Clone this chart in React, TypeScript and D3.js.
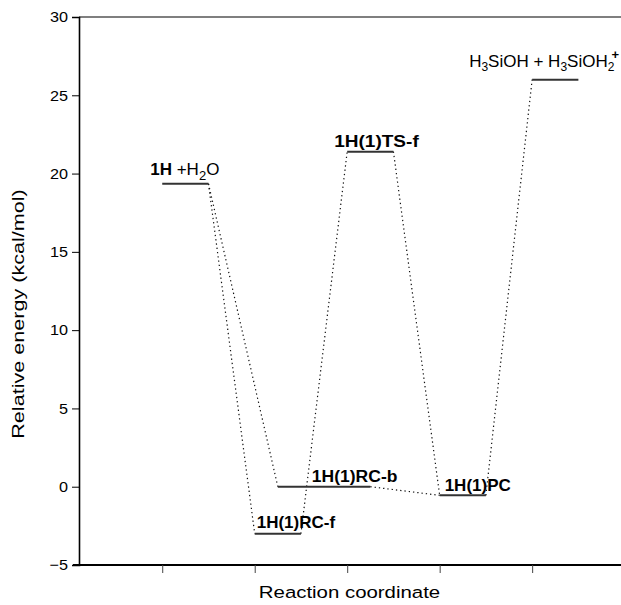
import React, { useEffect, useRef } from 'react'
import * as d3 from 'd3'

// energy levels (kcal/mol) and where they sit along the reaction coordinate
const levelNames = ['1H+H2O', '1H(1)RC-f', '1H(1)RC-b', '1H(1)TS-f', '1H(1)PC', 'products']
const levelEnergy = [19.35, -3.0, 0.0, 21.4, -0.55, 26.0]
const levelStart = [1, 2, 2.25, 3, 4, 5]
const levelEnd = [1.5, 2.5, 3.25, 3.5, 4.5, 5.5]

// dotted connectors: [from level (right end), to level (left end)]
const links = [
  [0, 2],
  [0, 1],
  [1, 3],
  [3, 4],
  [2, 4],
  [4, 5],
]

const yTicks = [-5, 0, 5, 10, 15, 20, 25, 30]
const xTicks = [1, 2, 3, 4, 5]

const W = 621
const H = 605
const FONT = '"Liberation Sans", Arial, sans-serif'

const App = () => {
  const ref = useRef(null)

  useEffect(() => {
    const svg = d3.select(ref.current)
    svg.selectAll('*').remove()

    const x = d3.scaleLinear().domain([0.1, 5.95]).range([79, 620])
    const y = d3.scaleLinear().domain([-5, 30]).range([565, 17])

    // y axis
    const yAxis = svg
      .append('g')
      .attr('transform', `translate(${x(0.1)},0)`)
      .call(d3.axisLeft(y).tickValues(yTicks).tickSize(7).tickPadding(4).tickFormat(d3.format('d')))
    yAxis.select('.domain').attr('stroke-width', 1.6)
    yAxis
      .selectAll('text')
      .attr('font-family', FONT)
      .attr('font-size', 15)
      .attr('fill', '#000')
      .attr('transform', 'translate(-11,0) scale(1.08,1) translate(11,0)')

    // x axis
    const xAxis = svg
      .append('g')
      .attr('transform', `translate(0,${y(-5)})`)
      .call(d3.axisBottom(x).tickValues(xTicks).tickSize(8).tickFormat(() => ''))
    xAxis.select('.domain').attr('stroke-width', 2.2).attr('d', `M${x(0.1) - 6},0H${W}`)
    xAxis.selectAll('.tick line').attr('stroke', '#444')

    // top frame line
    svg
      .append('line')
      .attr('x1', x(0.1))
      .attr('x2', W)
      .attr('y1', y(30))
      .attr('y2', y(30))
      .attr('stroke', '#000')
      .attr('stroke-width', 1.2)

    // dotted connectors
    svg
      .append('g')
      .selectAll('line')
      .data(links)
      .enter()
      .append('line')
      .attr('x1', d => x(levelEnd[d[0]]))
      .attr('y1', d => y(levelEnergy[d[0]]))
      .attr('x2', d => x(levelStart[d[1]]))
      .attr('y2', d => y(levelEnergy[d[1]]))
      .attr('stroke', '#111')
      .attr('stroke-width', 1.2)
      .attr('stroke-dasharray', '1.3,3')

    // energy levels
    svg
      .append('g')
      .selectAll('line')
      .data(levelNames)
      .enter()
      .append('line')
      .attr('x1', (d, i) => x(levelStart[i]))
      .attr('x2', (d, i) => x(levelEnd[i]))
      .attr('y1', (d, i) => y(levelEnergy[i]))
      .attr('y2', (d, i) => y(levelEnergy[i]))
      .attr('stroke', '#333')
      .attr('stroke-width', 2)

    const label = (i, dx, dy, sx = 1) =>
      svg
        .append('text')
        .attr('transform', `translate(${x(levelStart[i]) + dx},${y(levelEnergy[i]) + dy}) scale(${sx},1)`)
        .attr('font-family', FONT)
        .attr('font-size', 17)
        .attr('fill', '#000')

    // 1H + H2O
    const t0 = label(0, -12, -9)
    t0.append('tspan').attr('font-weight', 'bold').text('1H')
    t0.append('tspan').text(' +H')
    t0.append('tspan').attr('font-size', 13).attr('dy', 5).text('2')
    t0.append('tspan').attr('dy', -5).text('O')

    label(1, 2, -6).attr('font-weight', 'bold').text('1H(1)RC-f')
    label(2, 34, -5, 1.03).attr('font-weight', 'bold').text('1H(1)RC-b')
    label(3, -13, -5, 1.12).attr('font-weight', 'bold').text('1H(1)TS-f')
    label(4, 5, -4).attr('font-weight', 'bold').text('1H(1)PC')

    // H3SiOH + H3SiOH2+
    const t5 = label(5, -63, -13)
    t5.append('tspan').text('H')
    t5.append('tspan').attr('font-size', 12).attr('dy', 4).text('3')
    t5.append('tspan').attr('dy', -4).text('SiOH + H')
    t5.append('tspan').attr('font-size', 12).attr('dy', 4).text('3')
    t5.append('tspan').attr('dy', -4).text('SiOH')
    t5.append('tspan').attr('font-size', 12).attr('dy', 4).text('2')
    t5.append('tspan').attr('font-size', 13).attr('font-weight', 'bold').attr('dx', -3).attr('dy', -12).text('+')

    // axis titles
    svg
      .append('text')
      .attr('transform', `translate(${(x(0.1) + x(5.95)) / 2},598) scale(1.2,1)`)
      .attr('text-anchor', 'middle')
      .attr('font-family', FONT)
      .attr('font-size', 17)
      .text('Reaction coordinate')

    svg
      .append('text')
      .attr('transform', `translate(24,314) rotate(-90) scale(1.27,1)`)
      .attr('text-anchor', 'middle')
      .attr('font-family', FONT)
      .attr('font-size', 17)
      .text('Relative energy (kcal/mol)')
  }, [])

  return <svg ref={ref} width={W} height={H} style={{ position: 'absolute', left: 0, top: 0 }} />
}

export default App
